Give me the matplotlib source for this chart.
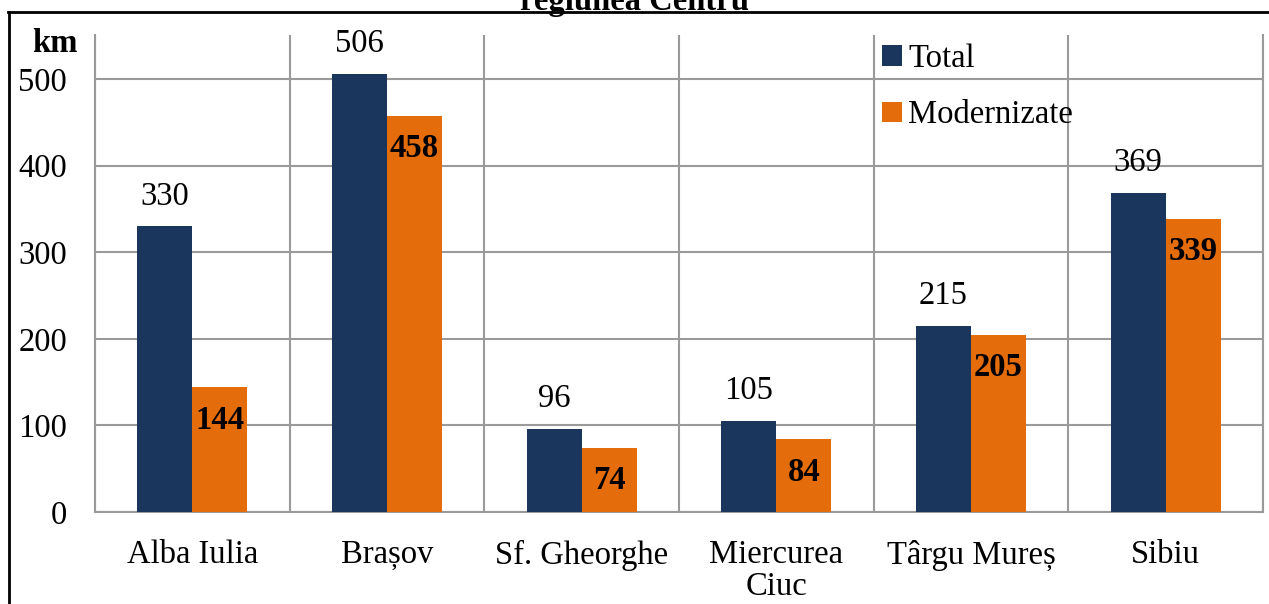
import matplotlib.pyplot as plt
import numpy as np
from matplotlib.lines import Line2D

orase = ["Alba Iulia", "Brașov", "Sf. Gheorghe", "Miercurea\nCiuc", "Târgu Mureș", "Sibiu"]
total = [330, 506, 96, 105, 215, 369]
modernizate = [144, 458, 74, 84, 205, 339]

plt.rcParams["font.family"] = ["Liberation Serif", "DejaVu Serif"]

W, H = 1269, 604
fig = plt.figure(figsize=(W / 100, H / 100), dpi=100)
ax = fig.add_axes([95 / W, (H - 512) / H, (1263 - 95) / W, (512 - 35) / H])

blue = "#1b365d"
orange = "#e46c0a"
grid = "#9a9a9a"
fs = 23.5

x = np.arange(len(orase))
w = 0.283
b1 = ax.bar(x - w / 2, total, w, color=blue, label="Total", zorder=3)
b2 = ax.bar(x + w / 2, modernizate, w, color=orange, label="Modernizate", zorder=3)

ax.set_xlim(-0.5, len(orase) - 0.5)
ax.set_ylim(0, 551)
ax.set_yticks([0, 100, 200, 300, 400, 500])
ax.set_xticks(x)
ax.set_xticklabels(orase, fontsize=fs, linespacing=1.05)
ax.tick_params(axis="y", labelsize=fs, length=0, pad=20)
ax.tick_params(axis="x", length=0, pad=20)

ax.set_xticks(np.arange(len(orase) + 1) - 0.5, minor=True)
ax.tick_params(axis="x", which="minor", length=0)
ax.grid(axis="y", which="major", color=grid, lw=1.5, zorder=0)
ax.grid(axis="x", which="minor", color=grid, lw=1.5, zorder=0)

ax.spines["top"].set_visible(False)
for s in ["left", "right", "bottom"]:
    ax.spines[s].set_color(grid)
    ax.spines[s].set_linewidth(1.5)

for rect, v in zip(b1, total):
    ax.text(rect.get_x() + rect.get_width() / 2, v + 17, str(v),
            ha="center", va="bottom", fontsize=fs)
for rect, v in zip(b2, modernizate):
    ax.text(rect.get_x() + rect.get_width() / 2, v - 38, str(v),
            ha="center", va="center", fontsize=fs, fontweight="bold")

ax.legend(loc="upper left", bbox_to_anchor=(866 / W, 1 - 27 / H),
          bbox_transform=fig.transFigure, frameon=False, fontsize=fs,
          handlelength=0.6, handleheight=0.6, handletextpad=0.2,
          labelspacing=0.8, borderpad=0)

fig.text(55 / W, 1 - 43 / H, "km", ha="center", va="center",
         fontsize=fs, fontweight="bold")
fig.text(634 / W, 1 - 10 / H, "regiunea Centru", ha="center", va="baseline",
         fontsize=fs, fontweight="bold")

fig.add_artist(Line2D([8 / W, 1], [1 - 12 / H, 1 - 12 / H], color="black", lw=2,
                      transform=fig.transFigure))
fig.add_artist(Line2D([9 / W, 9 / W], [0, 1 - 12 / H], color="black", lw=2,
                      transform=fig.transFigure))

fig.savefig("out.png", dpi=100)
